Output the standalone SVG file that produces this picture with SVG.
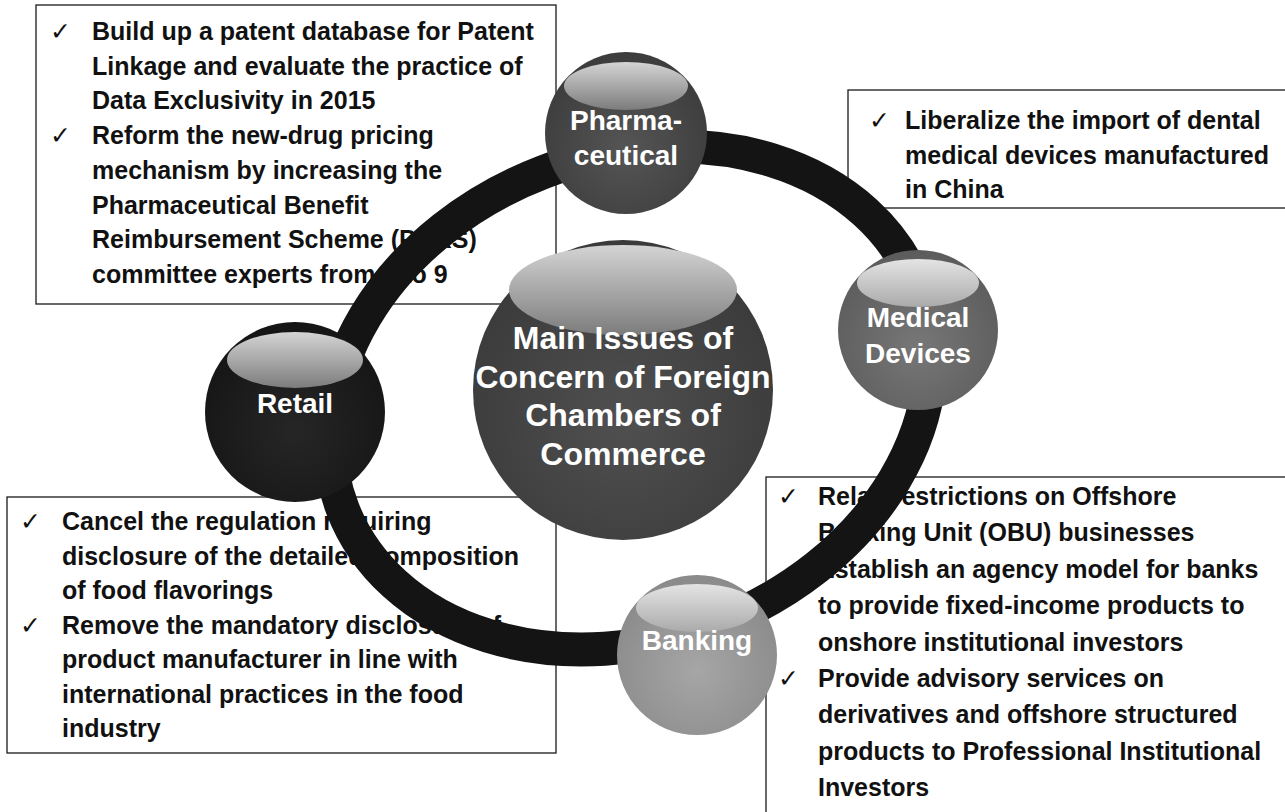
<svg xmlns="http://www.w3.org/2000/svg" width="1285" height="812" viewBox="0 0 1285 812">
  <defs>
    <style>
      .box { fill: #ffffff; stroke: #1a1a1a; stroke-width: 1.3; }
      .bt { font-family: "Liberation Sans", Arial, sans-serif; font-weight: bold; font-size: 25px; fill: #111111; }
      .ck { font-family: "DejaVu Sans", sans-serif; font-size: 25px; fill: #111111; }
      .lbl { font-family: "Liberation Sans", Arial, sans-serif; font-weight: bold; font-size: 28px; fill: #ffffff; text-anchor: middle; }
      .mainlbl { font-family: "Liberation Sans", Arial, sans-serif; font-weight: bold; font-size: 32px; fill: #ffffff; text-anchor: middle; }
      .ring { fill: none; stroke: #141414; stroke-width: 34; }
    </style>
    <linearGradient id="glintDark" x1="0" y1="0" x2="0" y2="1">
      <stop offset="0" stop-color="#d4d4d4"/>
      <stop offset="1" stop-color="#7c7c7c"/>
    </linearGradient>
    <linearGradient id="glintLight" x1="0" y1="0" x2="0" y2="1">
      <stop offset="0" stop-color="#e4e4e4"/>
      <stop offset="1" stop-color="#aaaaaa"/>
    </linearGradient>
    <radialGradient id="bodyMain" cx="0.5" cy="0.6" r="0.6">
      <stop offset="0" stop-color="#505050"/>
      <stop offset="1" stop-color="#3a3a3a"/>
    </radialGradient>
    <radialGradient id="bodyPharma" cx="0.5" cy="0.6" r="0.6">
      <stop offset="0" stop-color="#555555"/>
      <stop offset="1" stop-color="#3c3c3c"/>
    </radialGradient>
    <radialGradient id="bodyRetail" cx="0.5" cy="0.6" r="0.6">
      <stop offset="0" stop-color="#262626"/>
      <stop offset="1" stop-color="#151515"/>
    </radialGradient>
    <radialGradient id="bodyMedical" cx="0.5" cy="0.6" r="0.6">
      <stop offset="0" stop-color="#777777"/>
      <stop offset="1" stop-color="#5c5c5c"/>
    </radialGradient>
    <radialGradient id="bodyBanking" cx="0.5" cy="0.6" r="0.6">
      <stop offset="0" stop-color="#a6a6a6"/>
      <stop offset="1" stop-color="#8a8a8a"/>
    </radialGradient>
  </defs>

  <rect x="0" y="0" width="1285" height="812" fill="#ffffff"/>

  <!-- Text boxes -->
  <g id="box-pharmaceutical">
    <rect class="box" x="36" y="5" width="520" height="299"/>
    <text class="ck" x="50" y="40">✓</text>
    <text class="ck" x="50" y="144">✓</text>
    <text class="bt" x="92" y="40">Build up a patent database for Patent</text>
    <text class="bt" x="92" y="74.7">Linkage and evaluate the practice of</text>
    <text class="bt" x="92" y="109.4">Data Exclusivity in 2015</text>
    <text class="bt" x="92" y="144.1">Reform the new-drug pricing</text>
    <text class="bt" x="92" y="178.8">mechanism by increasing the</text>
    <text class="bt" x="92" y="213.5">Pharmaceutical Benefit</text>
    <text class="bt" x="92" y="248.2">Reimbursement Scheme (PBRS)</text>
    <text class="bt" x="92" y="282.9">committee experts from 7 to 9</text>
  </g>

  <g id="box-medical">
    <rect class="box" x="848" y="90" width="450" height="118"/>
    <text class="ck" x="869" y="129">✓</text>
    <text class="bt" x="905" y="129">Liberalize the import of dental</text>
    <text class="bt" x="905" y="163.7">medical devices manufactured</text>
    <text class="bt" x="905" y="198.4">in China</text>
  </g>

  <g id="box-retail">
    <rect class="box" x="7" y="497" width="549" height="256"/>
    <text class="ck" x="20" y="530">✓</text>
    <text class="ck" x="20" y="633.5">✓</text>
    <text class="bt" x="62" y="530">Cancel the regulation requiring</text>
    <text class="bt" x="62" y="564.5">disclosure of the detailed composition</text>
    <text class="bt" x="62" y="599">of food flavorings</text>
    <text class="bt" x="62" y="633.5">Remove the mandatory disclosure of</text>
    <text class="bt" x="62" y="668">product manufacturer in line with</text>
    <text class="bt" x="62" y="702.5">international practices in the food</text>
    <text class="bt" x="62" y="737">industry</text>
  </g>

  <g id="box-banking">
    <rect class="box" x="766" y="477" width="540" height="400"/>
    <text class="ck" x="778" y="505">✓</text>
    <text class="ck" x="778" y="687">✓</text>
    <text class="bt" x="818" y="505">Relax restrictions on Offshore</text>
    <text class="bt" x="818" y="541.4">Banking Unit (OBU) businesses</text>
    <text class="bt" x="818" y="577.8">Establish an agency model for banks</text>
    <text class="bt" x="818" y="614.2">to provide fixed-income products to</text>
    <text class="bt" x="818" y="650.6">onshore institutional investors</text>
    <text class="bt" x="818" y="687">Provide advisory services on</text>
    <text class="bt" x="818" y="723.4">derivatives and offshore structured</text>
    <text class="bt" x="818" y="759.8">products to Professional Institutional</text>
    <text class="bt" x="818" y="796.2">Investors</text>
  </g>

  <!-- Connector ring -->
  <g id="connectors">
    <ellipse class="ring" cx="630" cy="398" rx="308" ry="242" transform="rotate(-21 630 398)"/>
  </g>

  <!-- Circle nodes -->
  <g id="node-main">
    <circle cx="623" cy="390" r="150" fill="url(#bodyMain)"/>
    <ellipse cx="623" cy="290" rx="114" ry="45" fill="url(#glintDark)"/>
    <text class="mainlbl" x="623" y="349">Main Issues of</text>
    <text class="mainlbl" x="623" y="387.5">Concern of Foreign</text>
    <text class="mainlbl" x="623" y="426">Chambers of</text>
    <text class="mainlbl" x="623" y="464.5">Commerce</text>
  </g>

  <g id="node-pharmaceutical">
    <circle cx="626" cy="133" r="81" fill="url(#bodyPharma)"/>
    <ellipse cx="626" cy="86" rx="62" ry="24" fill="url(#glintDark)"/>
    <text class="lbl" x="626" y="130">Pharma-</text>
    <text class="lbl" x="626" y="165">ceutical</text>
  </g>

  <g id="node-medical">
    <circle cx="918" cy="330" r="80" fill="url(#bodyMedical)"/>
    <ellipse cx="918" cy="283" rx="61" ry="24" fill="url(#glintLight)"/>
    <text class="lbl" x="918" y="327">Medical</text>
    <text class="lbl" x="918" y="363">Devices</text>
  </g>

  <g id="node-retail">
    <circle cx="295" cy="412" r="90" fill="url(#bodyRetail)"/>
    <ellipse cx="295" cy="360" rx="68" ry="28" fill="url(#glintDark)"/>
    <text class="lbl" x="295" y="413">Retail</text>
  </g>

  <g id="node-banking">
    <circle cx="697" cy="655" r="80" fill="url(#bodyBanking)"/>
    <ellipse cx="697" cy="608" rx="61" ry="24" fill="url(#glintLight)"/>
    <text class="lbl" x="697" y="650">Banking</text>
  </g>
</svg>
